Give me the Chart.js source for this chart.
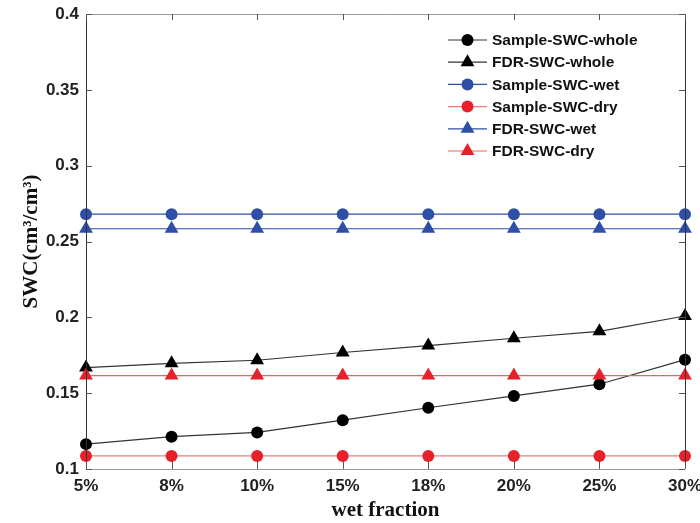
<!DOCTYPE html>
<html>
<head>
<meta charset="utf-8">
<script src="https://cdn.jsdelivr.net/npm/chart.js@4.4.1/dist/chart.umd.min.js"></script>
<style>
  html, body { margin: 0; padding: 0; background: #fff; }
  #wrap { width: 700px; height: 523px; }
</style>
</head>
<body>
<div id="wrap"><canvas id="swcChart"></canvas></div>
<script>
// wet fraction categories
const categories = ['5%', '8%', '10%', '15%', '18%', '20%', '25%', '30%'];

// soil water content (cm3/cm3)
const sampleWhole = [0.1164, 0.1213, 0.1241, 0.1322, 0.1404, 0.1482, 0.1559, 0.1721];
const fdrWhole    = [0.1669, 0.1697, 0.1717, 0.1768, 0.1814, 0.1862, 0.1908, 0.2009];
const sampleWet   = [0.268, 0.268, 0.268, 0.268, 0.268, 0.268, 0.268, 0.268];
const sampleDry   = [0.1086, 0.1086, 0.1086, 0.1086, 0.1086, 0.1086, 0.1086, 0.1086];
const fdrWet      = [0.2584, 0.2584, 0.2584, 0.2584, 0.2584, 0.2584, 0.2584, 0.2584];
const fdrDry      = [0.1616, 0.1616, 0.1616, 0.1616, 0.1616, 0.1616, 0.1616, 0.1616];

const yTicks = [0.1, 0.15, 0.2, 0.25, 0.3, 0.35, 0.4];

const BLACK = '#000000';
const BLUE = '#2f4ea6';
const RED = '#e8202a';

function series(label, data, color, style, lineColor) {
    return {
        label: label,
        data: data,
        borderColor: lineColor || color,
        backgroundColor: color,
        pointBackgroundColor: color,
        pointBorderColor: color,
        pointStyle: style,
        pointRadius: style === 'triangle' ? 8 : 6,
        pointBorderWidth: 0,
        borderWidth: 1.2,
        tension: 0,
        fill: false
    };
}

const datasets = [
    series('Sample-SWC-whole', sampleWhole, BLACK, 'circle', '#333'),
    series('FDR-SWC-whole', fdrWhole, BLACK, 'triangle', '#333'),
    series('Sample-SWC-wet', sampleWet, BLUE, 'circle'),
    series('Sample-SWC-dry', sampleDry, RED, 'circle', '#f07a7a'),
    series('FDR-SWC-wet', fdrWet, BLUE, 'triangle'),
    series('FDR-SWC-dry', fdrDry, RED, 'triangle', '#f06060')
];
// later series sit on top, like the original plot
datasets.forEach((d, i) => { d.order = datasets.length - i; });

// frame, inward ticks and the in-plot legend
const framePlugin = {
    id: 'frame',
    afterDatasetsDraw(chart) {
        const ctx = chart.ctx;
        const a = chart.chartArea;
        const xs = chart.scales.x;
        const ys = chart.scales.y;
        ctx.save();
        ctx.lineWidth = 1;

        // box
        ctx.strokeStyle = '#9a9a9a';
        ctx.beginPath();
        ctx.moveTo(a.left, a.top + 0.5); ctx.lineTo(a.right, a.top + 0.5);
        ctx.moveTo(a.left, a.bottom + 0.5); ctx.lineTo(a.right, a.bottom + 0.5);
        ctx.stroke();
        ctx.strokeStyle = '#333';
        ctx.beginPath();
        ctx.moveTo(a.left + 0.5, a.top); ctx.lineTo(a.left + 0.5, a.bottom);
        ctx.moveTo(a.right + 0.5, a.top); ctx.lineTo(a.right + 0.5, a.bottom);
        ctx.stroke();

        // inward tick marks
        ctx.strokeStyle = '#555';
        ctx.beginPath();
        yTicks.forEach(v => {
            const y = Math.round(ys.getPixelForValue(v)) + 0.5;
            ctx.moveTo(a.left, y); ctx.lineTo(a.left + 6, y);
            ctx.moveTo(a.right, y); ctx.lineTo(a.right - 6, y);
        });
        categories.forEach((c, i) => {
            const x = Math.round(xs.getPixelForValue(i)) + 0.5;
            ctx.moveTo(x, a.bottom); ctx.lineTo(x, a.bottom - 8);
            ctx.moveTo(x, a.top); ctx.lineTo(x, a.top + 6);
        });
        ctx.stroke();

        // legend
        const lx0 = 448, lx1 = 487, tx = 492;
        let ly = 40;
        ctx.font = 'bold 15.5px "Liberation Sans", Arial, sans-serif';
        ctx.textBaseline = 'middle';
        ctx.textAlign = 'left';
        chart.data.datasets.forEach(d => {
            ctx.strokeStyle = d.borderColor;
            ctx.lineWidth = 1.2;
            ctx.beginPath();
            ctx.moveTo(lx0, ly); ctx.lineTo(lx1, ly);
            ctx.stroke();
            ctx.fillStyle = d.pointBackgroundColor;
            const cx = (lx0 + lx1) / 2;
            ctx.beginPath();
            if (d.pointStyle === 'triangle') {
                const r = d.pointRadius;
                ctx.moveTo(cx, ly - r);
                ctx.lineTo(cx + r * 0.866, ly + r / 2);
                ctx.lineTo(cx - r * 0.866, ly + r / 2);
                ctx.closePath();
            } else {
                ctx.arc(cx, ly, d.pointRadius, 0, Math.PI * 2);
            }
            ctx.fill();
            ctx.fillStyle = '#111';
            ctx.fillText(d.label, tx, ly + 1);
            ly += 22.2;
        });
        ctx.restore();
    }
};

const ctx = document.getElementById('swcChart').getContext('2d');
const swcChart = new Chart(ctx, {
    type: 'line',
    data: { labels: categories, datasets: datasets },
    options: {
        responsive: true,
        maintainAspectRatio: false,
        animation: false,
        layout: { padding: { top: 14, right: 0, left: 0, bottom: 0 } },
        plugins: { legend: { display: false }, tooltip: { enabled: false } },
        scales: {
            x: {
                type: 'category',
                offset: false,
                grid: { display: false, drawTicks: false },
                border: { display: false },
                ticks: {
                    color: '#222',
                    padding: 7,
                    maxRotation: 0,
                    font: { family: '"Liberation Sans", Arial, sans-serif', size: 17, weight: 'bold' }
                },
                title: {
                    display: true,
                    text: 'wet fraction',
                    color: '#111',
                    padding: { top: 0, bottom: 0 },
                    font: { family: '"Liberation Serif", "Times New Roman", serif', size: 21, weight: 'bold' }
                },
                afterFit(scale) {
                    scale.height = 54;
                    scale.paddingLeft = 0;
                    scale.paddingRight = 15;
                }
            },
            y: {
                min: 0.1,
                max: 0.4,
                grid: { display: false, drawTicks: false },
                border: { display: false },
                afterBuildTicks(scale) { scale.ticks = yTicks.map(v => ({ value: v })); },
                ticks: {
                    color: '#222',
                    padding: 7,
                    callback: v => String(Math.round(v * 100) / 100),
                    font: { family: '"Liberation Sans", Arial, sans-serif', size: 17, weight: 'bold' }
                },
                title: {
                    display: true,
                    text: 'SWC(cm³/cm³)',
                    color: '#111',
                    padding: { top: 19, bottom: 0 },
                    font: { family: '"Liberation Serif", "Times New Roman", serif', size: 21, weight: 'bold' }
                },
                afterFit(scale) {
                    scale.width = 86;
                    scale.paddingTop = 0;
                    scale.paddingBottom = 0;
                }
            }
        }
    },
    plugins: [framePlugin]
});
</script>
</body>
</html>
